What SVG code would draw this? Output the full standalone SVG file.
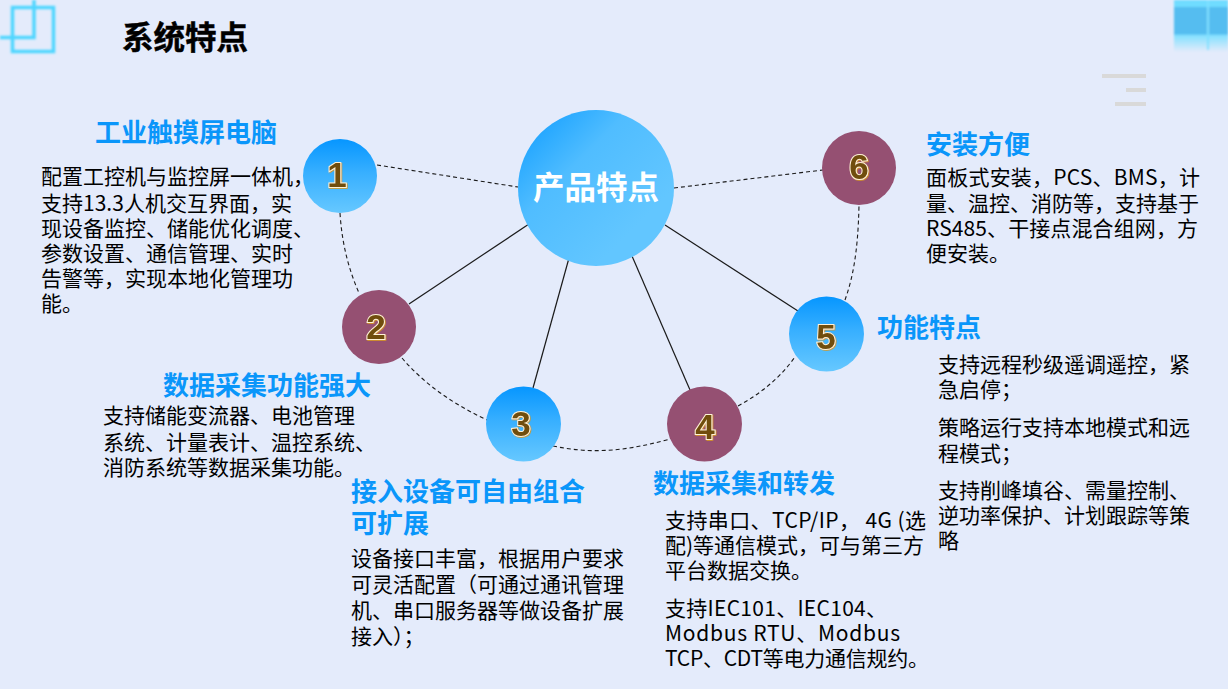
<svg xmlns="http://www.w3.org/2000/svg" width="1228" height="689" viewBox="0 0 1228 689">
<style>
text{font-family:"Noto Sans CJK SC","Noto Sans",sans-serif}
.b{font-size:21px;fill:#000}
.h{font-size:26px;font-weight:700;fill:#0a96fa}
.n{font-family:"Liberation Sans",Arial,sans-serif;font-size:35px;font-weight:700;fill:#6f4d10;stroke:#fff2d8;stroke-width:2px;paint-order:stroke;text-anchor:middle;filter:url(#ns)}
.s{fill:none;stroke:#1a1a1a;stroke-width:1.2}
.d{fill:none;stroke:#1a1a1a;stroke-width:1.1;stroke-dasharray:4 3}
.blue{fill:url(#gb)}
.plum{fill:#955072}
</style>
<defs>
<linearGradient id="gb" x1="0" y1="0" x2="0" y2="1"><stop offset="0" stop-color="#0696ff"/><stop offset="0.45" stop-color="#37afff"/><stop offset="1" stop-color="#66c8ff"/></linearGradient>
<linearGradient id="gh" x1="0.1" y1="0.1" x2="0.75" y2="0.75"><stop offset="0" stop-color="#1ea4ff"/><stop offset="0.4" stop-color="#50bdff"/><stop offset="1" stop-color="#62c6ff"/></linearGradient>
<linearGradient id="gt" x1="0" y1="0" x2="0" y2="1"><stop offset="0" stop-color="#70dcff"/><stop offset="0.13" stop-color="#70dcff"/><stop offset="0.14" stop-color="#55bdf0"/><stop offset="0.66" stop-color="#55bdf0"/><stop offset="0.67" stop-color="#80e0ff"/><stop offset="1" stop-color="#e4ebfb"/></linearGradient>
<filter id="gl" x="-20%" y="-20%" width="140%" height="140%"><feGaussianBlur stdDeviation="1"/></filter>
<filter id="ns" x="-30%" y="-30%" width="160%" height="160%"><feDropShadow dx="0.8" dy="0.8" stdDeviation="0.3" flood-color="#d99a20"/></filter>
</defs>
<rect width="1228" height="689" fill="#e4ebfb"/>
<g id="deco">
<g fill="none" stroke="#4fd6ff" stroke-width="3.500" filter="url(#gl)">
<rect x="12.500" y="7.500" width="41" height="44"/>
<path d="M0 37.500H34V0"/>
</g>
<g filter="url(#gl)"><rect x="1174" y="0" width="54" height="52" fill="url(#gt)"/><rect x="1207" y="0" width="2" height="50" fill="#80e0ff"/></g>
<g fill="#d9d9d9"><rect x="1102" y="74" width="44" height="4"/><rect x="1126" y="88" width="20" height="4"/><rect x="1115" y="102" width="31" height="4"/></g>
</g>
<text x="122" y="49" style="font-size:31.500px;font-weight:700;stroke:#000;stroke-width:.5px" fill="#000">系统特点</text>
<g id="connectors">
<path class="d" d="M377 165L518 187"/>
<path class="d" d="M674 188L823 170"/>
<path class="d" d="M340 213C342 245 349 270 359 293"/>
<path class="d" d="M402 358C425 385 455 405 487 420"/>
<path class="d" d="M553 446C595 455 630 450 670 439"/>
<path class="d" d="M738 406C760 394 780 378 795 357"/>
<path class="d" d="M845 300C852 280 858 255 859 205"/>
<path class="s" d="M529 224L409 304"/>
<path class="s" d="M569 258L533 388"/>
<path class="s" d="M632 256L690 390"/>
<path class="s" d="M665 225L798 311"/>
</g>
<g id="hub"><circle cx="596" cy="188" r="78" fill="url(#gh)"/><text x="596" y="199" text-anchor="middle" style="font-size:31.500px;font-weight:700" fill="#fff">产品特点</text></g>
<g id="node1"><circle class="blue" cx="340" cy="176" r="37"/><text class="n" x="337" y="187">1</text></g>
<g id="node2"><circle class="plum" cx="379" cy="327" r="37"/><text class="n" x="376" y="339">2</text></g>
<g id="node3"><circle class="blue" cx="523.500" cy="424" r="37.500"/><text class="n" x="521" y="436">3</text></g>
<g id="node4"><circle class="plum" cx="704.500" cy="424" r="37.500"/><text class="n" x="705" y="439">4</text></g>
<g id="node5"><circle class="blue" cx="826.500" cy="334" r="37.500"/><text class="n" x="826" y="349">5</text></g>
<g id="node6"><circle class="plum" cx="859" cy="168" r="37"/><text class="n" x="859" y="179">6</text></g>
<g id="t1"><text class="h" x="95" y="142">工业触摸屏电脑</text>
<text class="b" x="41" y="184">配置工控机与监控屏一体机，</text><text class="b" x="41" y="211" textLength="251">支持13.3人机交互界面，实</text><text class="b" x="41" y="236">现设备监控、储能优化调度、</text><text class="b" x="41" y="261">参数设置、通信管理、实时</text><text class="b" x="41" y="286">告警等，实现本地化管理功</text><text class="b" x="41" y="311">能。</text></g>
<g id="t2"><text class="h" x="163" y="395">数据采集功能强大</text>
<text class="b" x="103" y="423">支持储能变流器、电池管理</text><text class="b" x="103" y="450">系统、计量表计、温控系统、</text><text class="b" x="103" y="475">消防系统等数据采集功能。</text></g>
<g id="t3"><text class="h" x="351" y="501">接入设备可自由组合</text><text class="h" x="351" y="533">可扩展</text>
<text class="b" x="351" y="566">设备接口丰富，根据用户要求</text><text class="b" x="351" y="592">可灵活配置（可通过通讯管理</text><text class="b" x="351" y="618">机、串口服务器等做设备扩展</text><text class="b" x="351" y="644">接入）；</text></g>
<g id="t4"><text class="h" x="653" y="493">数据采集和转发</text>
<text class="b" x="665" y="528" textLength="261">支持串口、TCP/IP， 4G (选</text><text class="b" x="665" y="553">配)等通信模式，可与第三方</text><text class="b" x="665" y="578">平台数据交换。</text>
<text class="b" x="665" y="616" textLength="222">支持IEC101、IEC104、</text><text class="b" x="665" y="641" textLength="235">Modbus RTU、Modbus</text><text class="b" x="665" y="666" textLength="264">TCP、CDT等电力通信规约。</text></g>
<g id="t5"><text class="h" x="877" y="337">功能特点</text>
<text class="b" x="938" y="372">支持远程秒级遥调遥控，紧</text><text class="b" x="938" y="397">急启停；</text>
<text class="b" x="938" y="435">策略运行支持本地模式和远</text><text class="b" x="938" y="461">程模式；</text>
<text class="b" x="938" y="498">支持削峰填谷、需量控制、</text><text class="b" x="938" y="523">逆功率保护、计划跟踪等策</text><text class="b" x="938" y="548">略</text></g>
<g id="t6"><text class="h" x="926" y="154">安装方便</text>
<text class="b" x="926" y="185" textLength="274">面板式安装，PCS、BMS，计</text><text class="b" x="926" y="211">量、温控、消防等，支持基于</text><text class="b" x="926" y="236" textLength="272">RS485、干接点混合组网，方</text><text class="b" x="926" y="261">便安装。</text></g>
</svg>
